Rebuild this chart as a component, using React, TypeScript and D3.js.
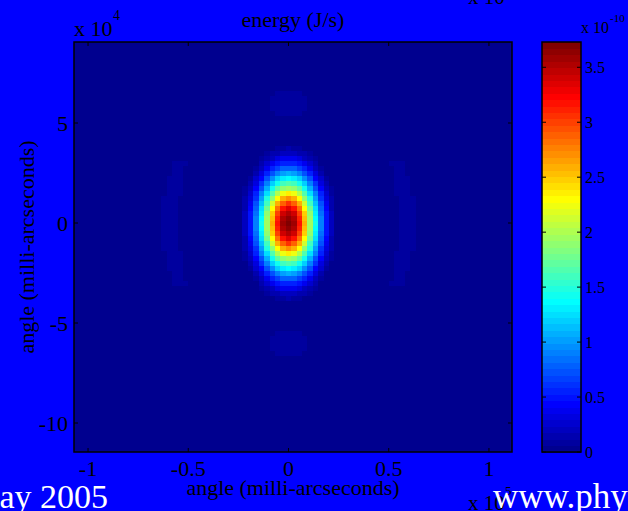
import React from 'react';
import * as d3 from 'd3';

// Axis ticks (x in units of 10^5 mas, y in units of 10^4 mas, colour in 10^-10 J/s)
const xTickValues = [-1, -0.5, 0, 0.5, 1];
const yTickValues = [5, 0, -5, -10];
const colorTickValues = [0, 0.5, 1, 1.5, 2, 2.5, 3, 3.5];

const xExtent = [-1.07, 1.115];
const yExtent = [-11.45, 9.05];
const colorExtent = [0, 3.73];

// Size of one image cell in axis units
const cellWidth = 0.027;
const cellHeight = 0.25;

// Energy per cell in one quadrant of the symmetric pattern (×10^-10 J/s).
// Row index counts cells away from the centre along y, column index along x.
const coreQuadrant: number[][] = [
  [3.72, 3.58, 3.16, 2.58, 1.97, 1.4, 0.92, 0.5, 0.21, 0.05],
  [3.66, 3.52, 3.11, 2.56, 1.95, 1.39, 0.91, 0.5, 0.2, 0.05],
  [3.53, 3.4, 2.99, 2.47, 1.88, 1.34, 0.87, 0.47, 0.19, 0.05],
  [3.36, 3.2, 2.8, 2.3, 1.77, 1.26, 0.81, 0.43, 0.17, 0.04],
  [3.05, 2.89, 2.57, 2.1, 1.63, 1.16, 0.74, 0.38, 0.15, 0.03],
  [2.7, 2.58, 2.29, 1.89, 1.46, 1.04, 0.64, 0.32, 0.12, 0.02],
  [2.35, 2.24, 1.99, 1.66, 1.27, 0.9, 0.54, 0.26, 0.09, 0.01],
  [1.98, 1.91, 1.7, 1.42, 1.09, 0.75, 0.43, 0.2, 0.07],
  [1.66, 1.6, 1.43, 1.18, 0.9, 0.6, 0.33, 0.14, 0.04],
  [1.36, 1.31, 1.17, 0.96, 0.71, 0.45, 0.24, 0.09, 0.02],
  [1.07, 1.03, 0.92, 0.74, 0.53, 0.32, 0.16, 0.05],
  [0.81, 0.78, 0.68, 0.54, 0.37, 0.21, 0.09, 0.03],
  [0.58, 0.55, 0.47, 0.36, 0.24, 0.13, 0.05],
  [0.38, 0.36, 0.3, 0.22, 0.14, 0.07, 0.02],
  [0.23, 0.21, 0.17, 0.12, 0.07, 0.03],
  [0.12, 0.11, 0.08, 0.05, 0.03],
  [0.05, 0.04, 0.03, 0.01],
];

// Faint secondary lobes in the same quadrant: [row, first column, last column, energy]
const sideLobes: [number, number, number, number][] = [
  [0, 21, 23, 0.08],
  [1, 21, 23, 0.08],
  [2, 21, 23, 0.08],
  [3, 21, 23, 0.08],
  [4, 21, 23, 0.08],
  [5, 21, 23, 0.08],
  [6, 20, 22, 0.08],
  [7, 20, 22, 0.08],
  [8, 20, 22, 0.08],
  [9, 20, 22, 0.08],
  [10, 20, 21, 0.08],
  [11, 20, 21, 0.08],
  [12, 19, 21, 0.08],
  [22, 0, 2, 0.08],
  [23, 0, 3, 0.08],
  [24, 0, 3, 0.08],
  [25, 0, 3, 0.08],
  [26, 0, 2, 0.08],
];

// MATLAB-style 64-step jet colour map
function jet64(): string[] {
  const n = 16;
  const u = [
    ...d3.range(1, n + 1).map((i) => i / n),
    ...Array(n - 1).fill(1),
    ...d3.range(n, 0, -1).map((i) => i / n),
  ];
  const at = (k: number) => (k >= 1 && k <= u.length ? u[k - 1] : 0);
  const out: string[] = [];
  for (let i = 1; i <= 64; i++) {
    out.push(d3.rgb(at(i - 24) * 255, at(i - 8) * 255, at(i + 8) * 255).formatHex());
  }
  return out;
}

const W = 628;
const H = 511;
const plot = { left: 74, right: 512, top: 42, bottom: 452 };
const bar = { left: 542, right: 581 };
const serif = "'Liberation Serif', 'Times New Roman', serif";

export default function App() {
  const jet = jet64();
  const x = d3.scaleLinear().domain(xExtent).range([plot.left, plot.right]);
  const y = d3.scaleLinear().domain(yExtent).range([plot.bottom, plot.top]);
  const c = d3.scaleLinear().domain(colorExtent).range([plot.bottom, plot.top]);
  const colorOf = (v: number) => {
    const idx = Math.floor(((v - colorExtent[0]) / (colorExtent[1] - colorExtent[0])) * 64);
    return jet[Math.max(0, Math.min(63, idx))];
  };

  // Expand the quadrant into full cells by mirroring across both axes
  const cells: { col: number; row: number; v: number }[] = [];
  const addMirrored = (row: number, col: number, v: number) => {
    const cs = col === 0 ? [0] : [col, -col];
    const rs = row === 0 ? [0] : [row, -row];
    for (const cc of cs) for (const rr of rs) cells.push({ col: cc, row: rr, v });
  };
  coreQuadrant.forEach((rowVals, r) => rowVals.forEach((v, col) => addMirrored(r, col, v)));
  sideLobes.forEach(([r, c0, c1, v]) => {
    for (let col = c0; col <= c1; col++) addMirrored(r, col, v);
  });

  const tickLen = 4;
  const midX = (plot.left + plot.right) / 2;
  const midY = (plot.top + plot.bottom) / 2;

  return (
    <div style={{ position: 'absolute', left: 0, top: 0 }}>
      <svg width={W} height={H} style={{ display: 'block' }}>
        <defs>
          <clipPath id="plotClip">
            <rect x={plot.left} y={plot.top} width={plot.right - plot.left} height={plot.bottom - plot.top} />
          </clipPath>
        </defs>
        <rect x={0} y={0} width={W} height={H} fill="#0000ff" />

        {/* image */}
        <g clipPath="url(#plotClip)" shapeRendering="crispEdges">
          <rect x={plot.left} y={plot.top} width={plot.right - plot.left} height={plot.bottom - plot.top} fill={jet[0]} />
          {cells.map((d, i) => {
            const x0 = x((d.col - 0.5) * cellWidth);
            const x1 = x((d.col + 0.5) * cellWidth);
            const y0 = y((d.row + 0.5) * cellHeight);
            const y1 = y((d.row - 0.5) * cellHeight);
            return <rect key={i} x={x0} y={y0} width={x1 - x0} height={y1 - y0} fill={colorOf(d.v)} />;
          })}
        </g>

        {/* axes box and ticks */}
        <rect x={plot.left} y={plot.top} width={plot.right - plot.left} height={plot.bottom - plot.top} fill="none" stroke="#000" strokeWidth={1.5} />
        {xTickValues.map((t) => (
          <g key={'xt' + t}>
            <line x1={x(t)} x2={x(t)} y1={plot.bottom} y2={plot.bottom - tickLen} stroke="#000" />
            <line x1={x(t)} x2={x(t)} y1={plot.top} y2={plot.top + tickLen} stroke="#000" />
            <text x={x(t)} y={476} textAnchor="middle" fontFamily={serif} fontSize={22}>{String(t)}</text>
          </g>
        ))}
        {yTickValues.map((t) => (
          <g key={'yt' + t}>
            <line x1={plot.left} x2={plot.left + tickLen} y1={y(t)} y2={y(t)} stroke="#000" />
            <line x1={plot.right} x2={plot.right - tickLen} y1={y(t)} y2={y(t)} stroke="#000" />
            <text x={68} y={y(t) + 7.5} textAnchor="end" fontFamily={serif} fontSize={22}>{String(t)}</text>
          </g>
        ))}

        {/* exponent labels */}
        <text x={74} y={36} fontFamily={serif} fontSize={22}>x 10</text>
        <text x={113} y={20} fontFamily={serif} fontSize={14}>4</text>
        <text x={468} y={510} fontFamily={serif} fontSize={21}>x 10</text>
        <text x={505} y={495} fontFamily={serif} fontSize={13}>5</text>
        <text x={468} y={4} fontFamily={serif} fontSize={21}>x 10</text>

        {/* titles */}
        <text x={midX} y={27} textAnchor="middle" fontFamily={serif} fontSize={22}>energy (J/s)</text>
        <text x={midX} y={495} textAnchor="middle" fontFamily={serif} fontSize={22}>angle (milli-arcseconds)</text>
        <text transform={`translate(34, ${midY}) rotate(-90)`} textAnchor="middle" fontFamily={serif} fontSize={22}>angle (milli-arcseconds)</text>

        {/* colour bar */}
        <g shapeRendering="crispEdges">
          {jet.map((col, i) => {
            const v0 = (i / 64) * colorExtent[1];
            const v1 = ((i + 1) / 64) * colorExtent[1];
            return <rect key={'cb' + i} x={bar.left} y={c(v1)} width={bar.right - bar.left} height={c(v0) - c(v1) + 0.5} fill={col} />;
          })}
        </g>
        <rect x={bar.left} y={plot.top} width={bar.right - bar.left} height={plot.bottom - plot.top} fill="none" stroke="#000" strokeWidth={1.5} />
        {colorTickValues.map((t) => (
          <g key={'ct' + t}>
            <line x1={bar.left} x2={bar.left + tickLen} y1={c(t)} y2={c(t)} stroke="#000" />
            <line x1={bar.right} x2={bar.right - tickLen} y1={c(t)} y2={c(t)} stroke="#000" />
            <text x={585} y={c(t) + 5.5} fontFamily={serif} fontSize={16}>{String(t)}</text>
          </g>
        ))}
        <text x={581} y={33} fontFamily={serif} fontSize={16}>x 10</text>
        <text x={610} y={22} fontFamily={serif} fontSize={11}>-10</text>

        {/* footer */}
        <text x={108} y={508} textAnchor="end" fontFamily={serif} fontSize={34} fill="#fff">May 2005</text>
        <text x={493} y={508} fontFamily={serif} fontSize={35} fill="#fff">www.phy</text>
      </svg>
    </div>
  );
}
